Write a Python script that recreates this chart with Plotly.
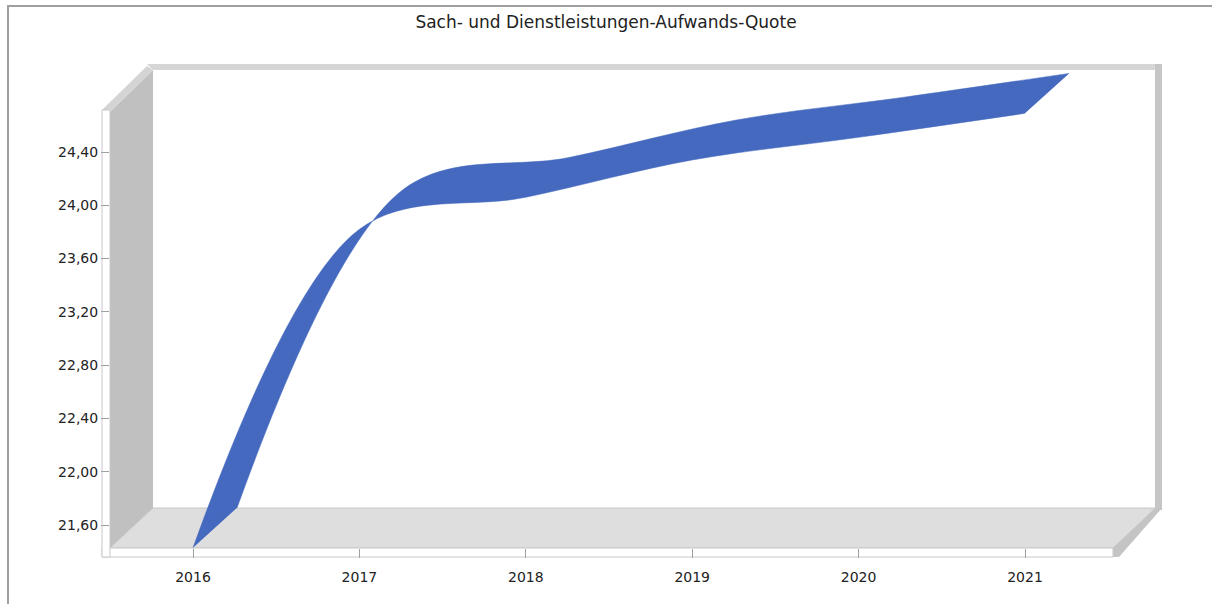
import plotly.graph_objects as go

# ---- data ----
years = [2016, 2017, 2018, 2019, 2020, 2021]
quote = [21.43, 23.82, 24.06, 24.34, 24.51, 24.69]
y_ticks = [21.6, 22.0, 22.4, 22.8, 23.2, 23.6, 24.0, 24.4]
title_text = "Sach- und Dienstleistungen-Aufwands-Quote"

W, H = 1212, 604
BLUE = "#4569BE"

# 3D depth offset (in data units): ~44px right, ~40px up
dx = 0.265
dy = 0.30

def px(x):
    return x / W

def py(y):
    return 1 - y / H

def poly(points, fill, line=None, lw=1):
    d = "M " + " L ".join(f"{px(x):.5f},{py(y):.5f}" for x, y in points) + " Z"
    return dict(type="path", xref="paper", yref="paper", path=d,
                fillcolor=fill, line=dict(color=line or fill, width=lw if line else 0),
                layer="below")

fig = go.Figure()

# front edge of ribbon
fig.add_trace(go.Scatter(
    x=years, y=quote, mode="lines",
    line=dict(shape="spline", color=BLUE, width=0.5),
    hoverinfo="skip", showlegend=False))
# back edge of ribbon, filled to front edge
fig.add_trace(go.Scatter(
    x=[v + dx for v in years], y=[v + dy for v in quote], mode="lines",
    line=dict(shape="spline", color=BLUE, width=0.5),
    fill="tonexty", fillcolor=BLUE,
    hoverinfo="skip", showlegend=False))

GRID = "#c8c8c8"
shapes = [
    # outer border
    dict(type="path", xref="paper", yref="paper",
         path=f"M {px(8)},{py(604)} L {px(8)},{py(6)} L {px(1212)},{py(6)}",
         line=dict(color="#a0a0a0", width=2), layer="below"),
    # top band of back wall
    poly([(147, 64), (1162, 64), (1162, 70), (153, 70)], "#d6d6d6"),
    # right bar of back wall
    poly([(1155, 64), (1162, 64), (1162, 510), (1155, 510)], "#c6c6c6"),
    # left side wall
    poly([(110, 548), (110, 112), (153, 70), (153, 508)], "#c0c0c0"),
    # left wall top chamfer
    poly([(102, 110), (147, 66), (153, 70), (110, 112)], "#d4d4d4"),
    # floor
    poly([(110, 548), (153, 508), (1157, 508), (1113, 548)], "#dedede", GRID, 1),
    # floor right chamfer
    poly([(1113, 548), (1155, 508), (1162, 508), (1119, 557), (1113, 557)], "#c4c4c4"),
    # floor front strip
    poly([(102, 548), (1113, 548), (1113, 557), (102, 557)], "#ffffff", GRID, 1),
    # left front strip
    poly([(102, 110), (110, 110), (110, 557), (102, 557)], "#ffffff", GRID, 1),
]

# axis scaling derived from pixel geometry
x_px_per_year = (1025 - 193) / 5
y_px_per_unit = (525 - 152) / (24.4 - 21.6)
x_range = [2016 - (193 - 110) / x_px_per_year, 2016 + (1157 - 193) / x_px_per_year]
y_bottom = 21.6 - (548 - 525) / y_px_per_unit
y_range = [y_bottom, y_bottom + (548 - 65) / y_px_per_unit]

TICKFONT = dict(family="DejaVu Sans, Liberation Sans, sans-serif", size=14, color="#222222")

fig.update_layout(
    width=W, height=H,
    margin=dict(l=0, r=0, t=0, b=0),
    paper_bgcolor="white",
    plot_bgcolor="rgba(0,0,0,0)",
    separators=",.",
    font=dict(family="DejaVu Sans, Liberation Sans, sans-serif", size=14, color="#222222"),
    title=dict(text=title_text, x=0.5, xanchor="center", y=py(22), yanchor="middle",
               font=dict(family="DejaVu Sans, sans-serif", size=17, color="#222222")),
    shapes=shapes,
    xaxis=dict(domain=[px(110), px(1157)], range=x_range,
               tickvals=years, ticktext=[str(y) for y in years], tickfont=TICKFONT,
               ticks="outside", ticklen=9, tickcolor="#a0a0a0", ticklabelstandoff=7,
               showgrid=False, zeroline=False, showline=False, fixedrange=True),
    yaxis=dict(domain=[py(548), py(65)], range=y_range,
               tickvals=y_ticks, tickformat=".2f", tickfont=TICKFONT,
               ticks="outside", ticklen=8, tickcolor="#a0a0a0",
               showgrid=False, zeroline=False, showline=False, fixedrange=True),
)

fig.write_html("out.html", config={"displayModeBar": False},
               post_script="document.body.style.margin='0';")
